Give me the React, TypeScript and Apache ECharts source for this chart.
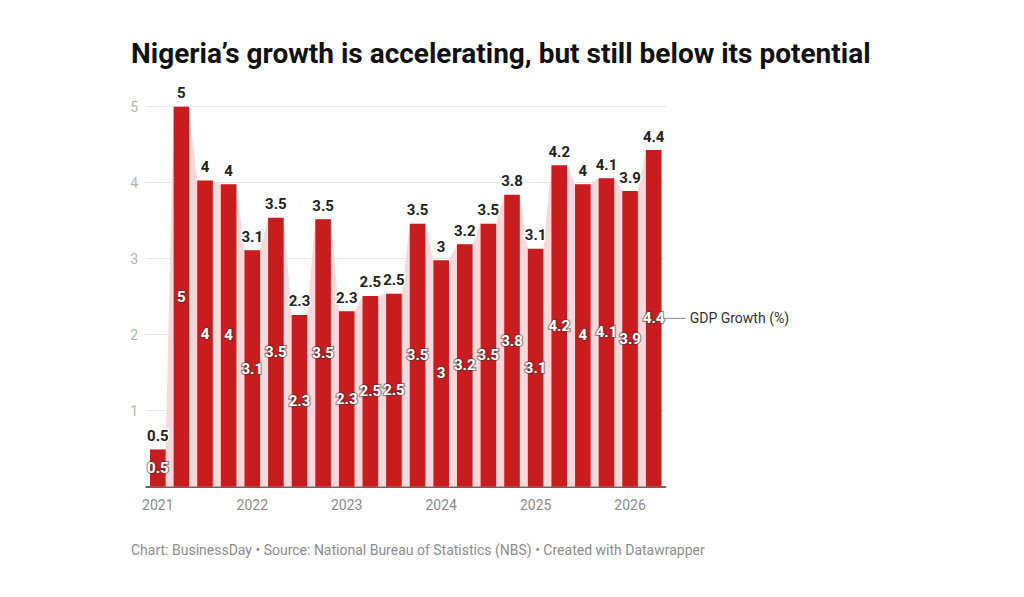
import React, { useEffect, useRef } from "react";
import * as echarts from "echarts";

const quarters = [
  "2021-Q1", "2021-Q2", "2021-Q3", "2021-Q4",
  "2022-Q1", "2022-Q2", "2022-Q3", "2022-Q4",
  "2023-Q1", "2023-Q2", "2023-Q3", "2023-Q4",
  "2024-Q1", "2024-Q2", "2024-Q3", "2024-Q4",
  "2025-Q1", "2025-Q2", "2025-Q3", "2025-Q4",
  "2026-Q1", "2026-Q2",
];

const gdpGrowth = [
  0.49, 5.0, 4.03, 3.98,
  3.11, 3.54, 2.26, 3.52,
  2.31, 2.51, 2.54, 3.46,
  2.98, 3.19, 3.46, 3.84,
  3.13, 4.23, 3.98, 4.06,
  3.89, 4.43,
];

const yTicks = [0, 1, 2, 3, 4, 5];

const seriesName = "GDP Growth (%)";
const titleText = "Nigeria’s growth is accelerating, but still below its potential";
const footerText =
  "Chart: BusinessDay • Source: National Bureau of Statistics (NBS) • Created with Datawrapper";

const FONT = "Roboto, 'Noto Sans', sans-serif";
const BAR_COLOR = "#c81c1f";
const AREA_COLOR = "#f8d9db";

const fmt = (v: number) => {
  const r = Math.round(v * 10) / 10;
  return Number.isInteger(r) ? String(r) : r.toFixed(1);
};

export default function App() {
  const ref = useRef<HTMLDivElement>(null);

  useEffect(() => {
    document.body.style.margin = "0";
    if (!ref.current) return;
    const chart = echarts.init(ref.current, undefined, { renderer: "svg" });

    const halfBar = 0.33;
    const areaData: number[][] = [];
    gdpGrowth.forEach((v, i) => {
      areaData.push([i - halfBar, v]);
      areaData.push([i + halfBar, v]);
    });

    chart.setOption({
      animation: false,
      backgroundColor: "#ffffff",
      textStyle: { fontFamily: FONT },
      title: [
        {
          text: titleText,
          left: 126,
          top: 34,
          textStyle: { fontFamily: FONT, fontSize: 28, fontWeight: "bold", color: "#111111" },
        },
        {
          text: footerText,
          left: 126,
          top: 538,
          textStyle: { fontFamily: FONT, fontSize: 14, fontWeight: "normal", color: "#8c8c8c" },
        },
      ],
      grid: { left: 146, right: 358.5, top: 106.7, bottom: 110.3, containLabel: false },
      xAxis: [
        {
          type: "category",
          data: quarters,
          axisLine: { show: true, lineStyle: { color: "#333333", width: 1.5 } },
          axisTick: { show: false },
          axisLabel: {
            interval: 3,
            margin: 11,
            color: "#8a8a8a",
            fontSize: 14,
            fontFamily: FONT,
            formatter: (v: string) => v.slice(0, 4),
          },
          splitLine: { show: false },
        },
        {
          type: "value",
          min: -0.5,
          max: quarters.length - 0.5,
          show: false,
        },
      ],
      yAxis: {
        type: "value",
        min: yTicks[0],
        max: yTicks[yTicks.length - 1],
        interval: 1,
        axisLine: { show: false },
        axisTick: { show: false },
        axisLabel: {
          margin: 8,
          color: "#b5b5b5",
          fontSize: 14,
          fontFamily: FONT,
          formatter: (v: number) => (v === 0 ? "" : String(v)),
        },
        splitLine: { show: true, lineStyle: { color: "#e6e6e6", width: 1 } },
      },
      series: [
        {
          type: "line",
          xAxisIndex: 1,
          data: areaData,
          symbol: "none",
          lineStyle: { width: 0 },
          areaStyle: { color: AREA_COLOR, opacity: 1 },
          z: 1,
          silent: true,
        },
        {
          name: seriesName,
          type: "bar",
          data: gdpGrowth,
          barCategoryGap: "34%",
          itemStyle: { color: BAR_COLOR },
          z: 3,
          label: {
            show: true,
            position: "top",
            distance: 6,
            formatter: (p: any) => fmt(p.value),
            fontFamily: FONT,
            fontSize: 15,
            fontWeight: "bold",
            color: "#222222",
            textBorderColor: "#ffffff",
            textBorderWidth: 3,
          },
        },
        {
          type: "bar",
          data: gdpGrowth,
          barCategoryGap: "34%",
          barGap: "-100%",
          itemStyle: { color: "rgba(0,0,0,0)" },
          z: 4,
          silent: true,
          label: {
            show: true,
            position: "inside",
            formatter: (p: any) => fmt(p.value),
            fontFamily: FONT,
            fontSize: 15,
            fontWeight: "bold",
            color: "#ffffff",
            textBorderColor: "rgba(60,60,60,0.55)",
            textBorderWidth: 2.5,
          },
        },
      ],
    });

    const last = gdpGrowth.length - 1;
    const pt = chart.convertToPixel({ xAxisIndex: 1, yAxisIndex: 0 } as any, [last, gdpGrowth[last] / 2]) as number[];
    if (pt) {
      const [px, py] = pt;
      chart.setOption({
        graphic: [
          {
            type: "line",
            shape: { x1: px + 11, y1: py, x2: px + 32, y2: py },
            style: { stroke: "#888888", lineWidth: 1 },
            z: 10,
          },
          {
            type: "text",
            x: px + 36,
            y: py,
            style: {
              text: seriesName,
              fontFamily: FONT,
              fontSize: 14,
              fill: "#333333",
              verticalAlign: "middle",
              align: "left",
            },
            z: 10,
          },
        ],
      });
    }

    return () => chart.dispose();
  }, []);

  return <div ref={ref} style={{ width: 1024, height: 597 }} />;
}
